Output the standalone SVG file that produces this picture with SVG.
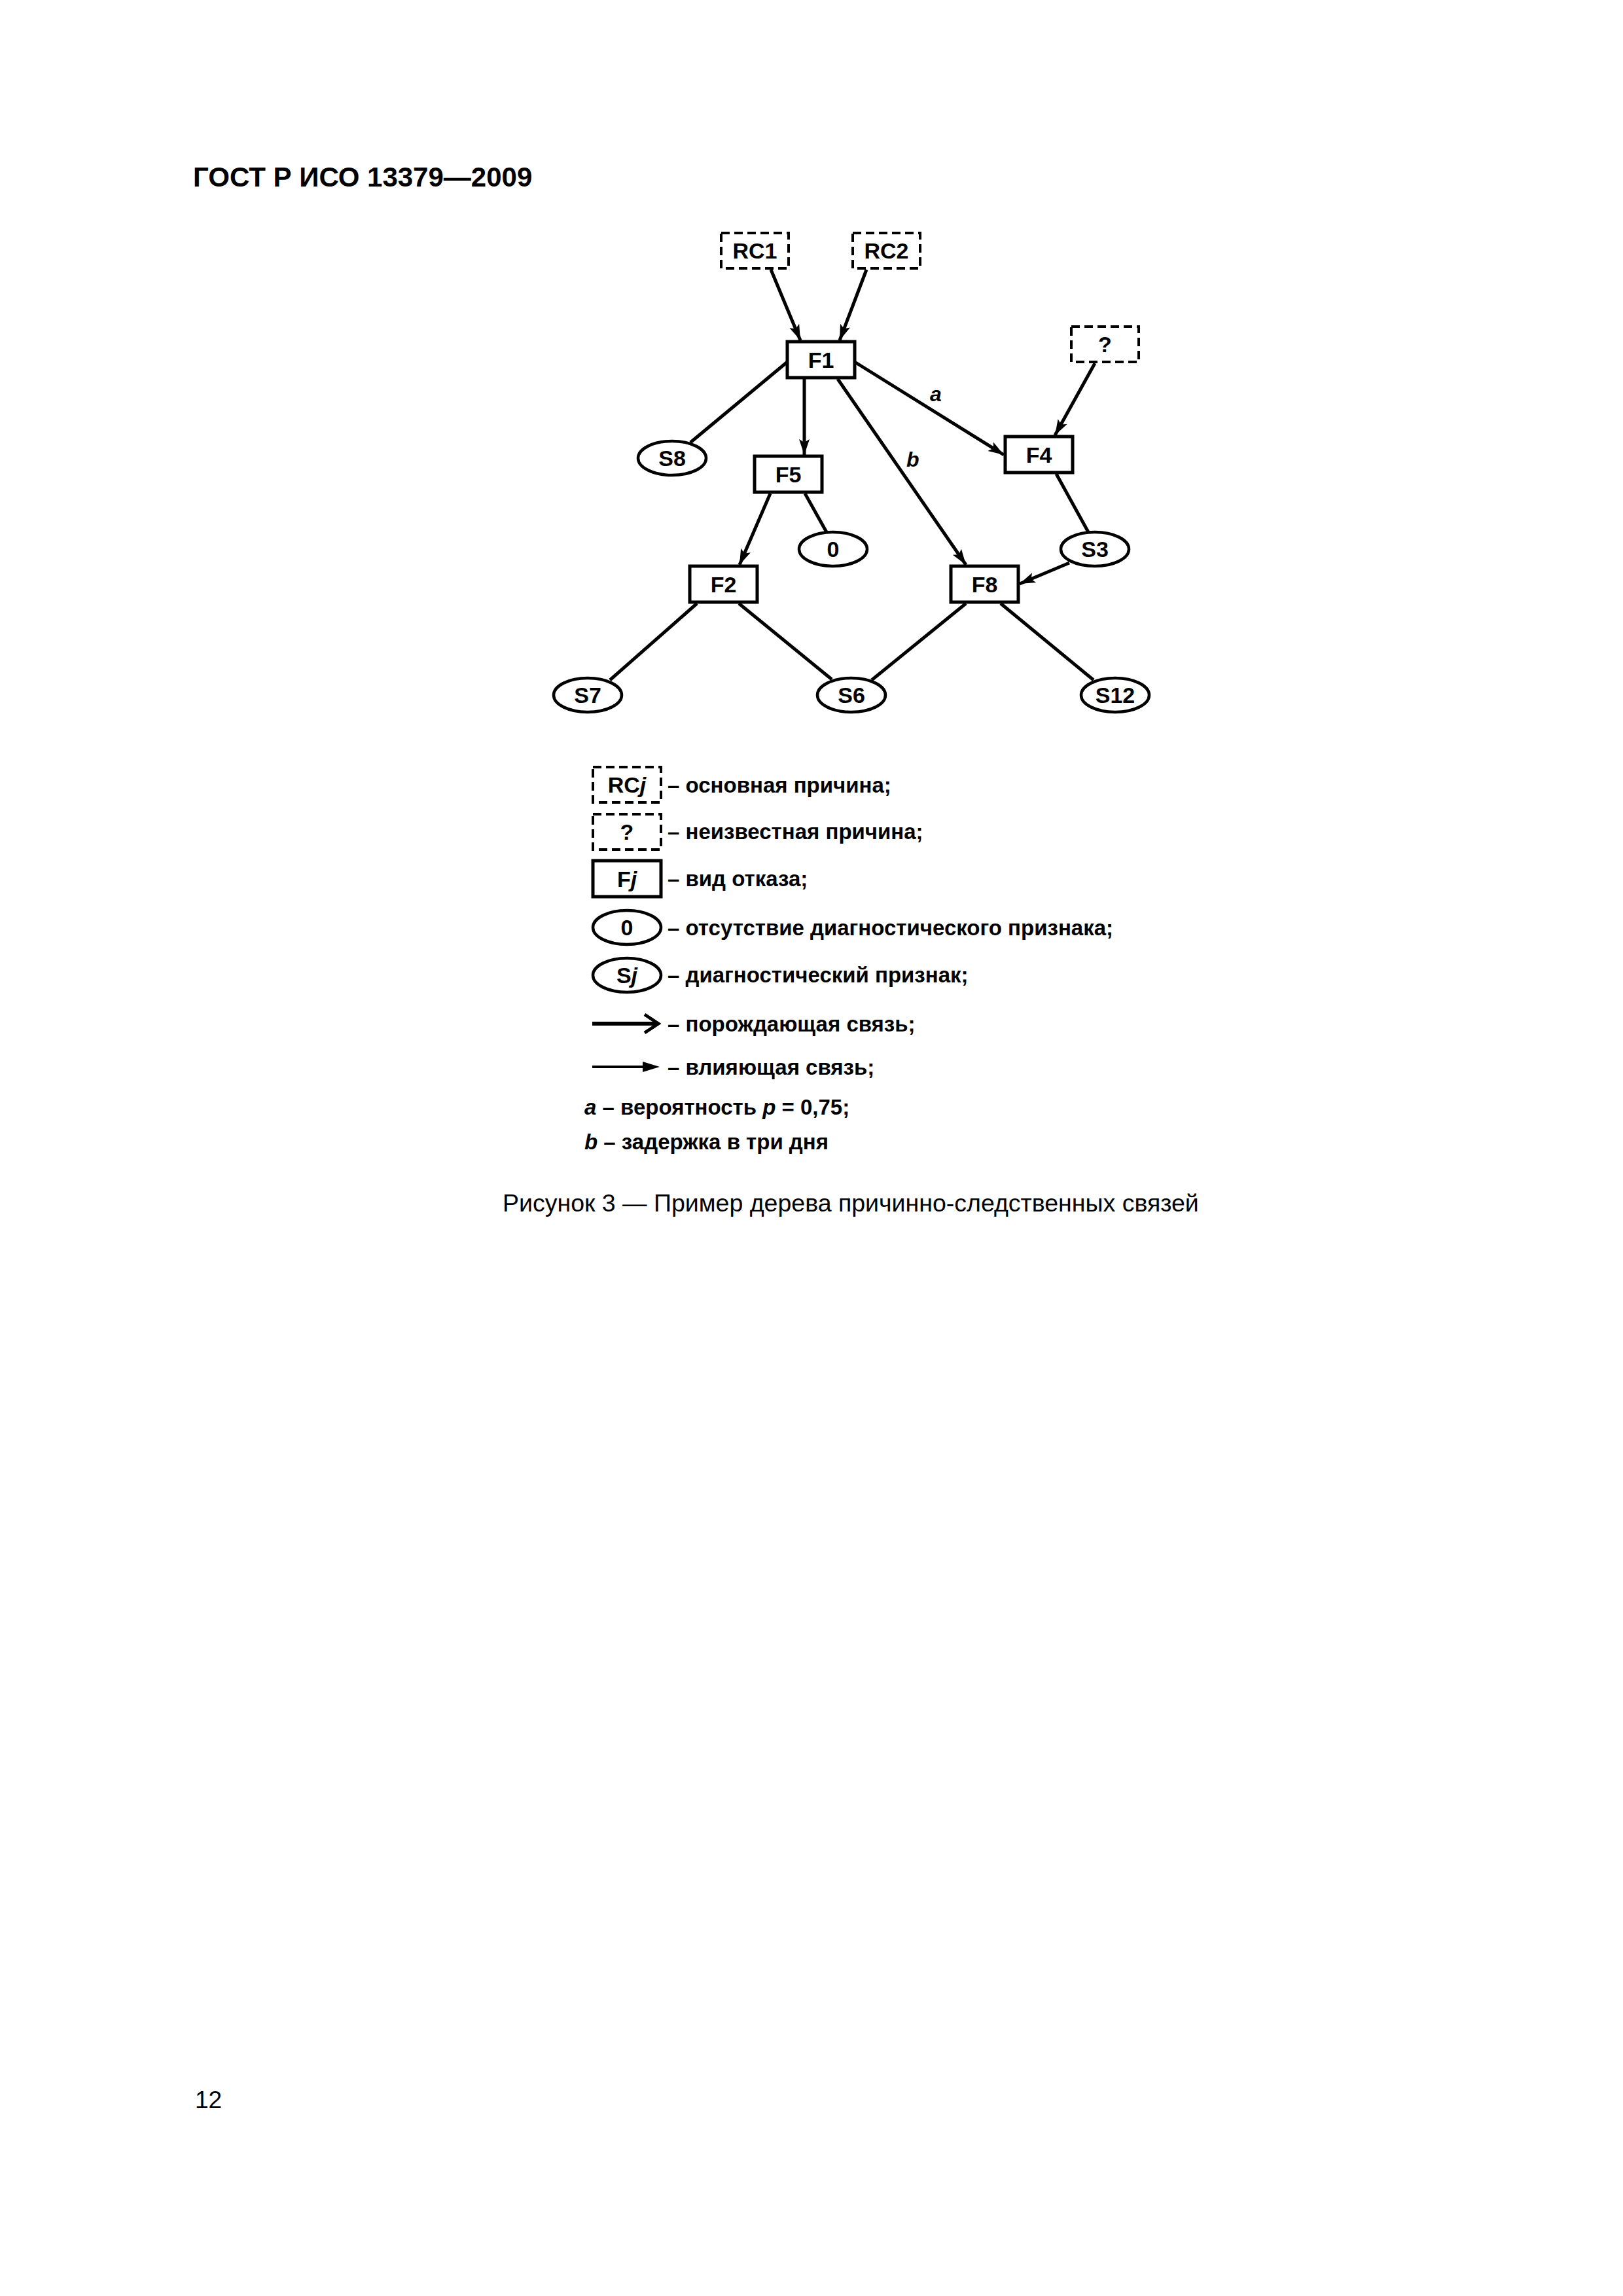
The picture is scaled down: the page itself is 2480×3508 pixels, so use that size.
<svg xmlns="http://www.w3.org/2000/svg" width="2480" height="3508" viewBox="0 0 2480 3508">
<style>
text{font-family:"Liberation Sans",Arial,sans-serif;fill:#000}
.title{font-size:42px;font-weight:bold}
.lbl{font-size:34px;font-weight:bold;text-anchor:middle}
.edge-lbl{font-size:32px;font-weight:bold;font-style:italic}
.leg{font-size:33px;font-weight:bold}
.cap{font-size:37.5px}
.pg{font-size:37px}
.box{fill:#fff;stroke:#000;stroke-width:5}
.dbox{fill:#fff;stroke:#000;stroke-width:4;stroke-dasharray:13 7}
.ell{fill:#fff;stroke:#000;stroke-width:4.5}
.c{fill:none;stroke:#000;stroke-width:5}
.ca{fill:none;stroke:#000;stroke-width:5;marker-end:url(#ah)}
</style>
<defs>
<marker id="ah" markerUnits="userSpaceOnUse" viewBox="-26 -10 28 20" refX="0" refY="0" markerWidth="28" markerHeight="20" orient="auto" overflow="visible">
<path d="M0,0 L-24,-8 L-19,0 L-24,8 Z" fill="#000"/>
</marker>
</defs>
<rect width="2480" height="3508" fill="#fff"/>
<text class="title" x="295" y="285">ГОСТ Р ИСО 13379—2009</text>

<g id="connectors">
<line class="ca" x1="1178" y1="412" x2="1223" y2="520"/>
<line class="ca" x1="1324" y1="412" x2="1283" y2="520"/>
<line class="c" x1="1203" y1="553" x2="1055" y2="676"/>
<line class="ca" x1="1229" y1="579" x2="1229" y2="695"/>
<line class="ca" x1="1280" y1="579" x2="1476" y2="863"/>
<line class="ca" x1="1306" y1="553" x2="1534" y2="695"/>
<line class="ca" x1="1673" y1="555" x2="1612" y2="665"/>
<line class="c" x1="1614" y1="724" x2="1663" y2="813"/>
<line class="ca" x1="1177" y1="754" x2="1130" y2="863"/>
<line class="c" x1="1230" y1="754" x2="1263" y2="813"/>
<line class="ca" x1="1634" y1="860" x2="1558" y2="892"/>
<line class="c" x1="1065" y1="922" x2="932" y2="1039"/>
<line class="c" x1="1129" y1="922" x2="1271" y2="1038"/>
<line class="c" x1="1476" y1="922" x2="1332" y2="1039"/>
<line class="c" x1="1529" y1="922" x2="1671" y2="1039"/>
<text class="edge-lbl" x="1421" y="613">a</text>
<text class="edge-lbl" x="1385" y="713">b</text>
</g>

<g id="RC1"><rect class="dbox" x="1102" y="356" width="103" height="54"/><text class="lbl" x="1153.5" y="395">RC1</text></g>
<g id="RC2"><rect class="dbox" x="1303" y="356" width="103" height="54"/><text class="lbl" x="1354.5" y="395">RC2</text></g>
<g id="Q"><rect class="dbox" x="1637" y="499" width="103" height="54"/><text class="lbl" x="1688.5" y="538">?</text></g>
<g id="F1"><rect class="box" x="1203" y="522" width="103" height="55"/><text class="lbl" x="1254.5" y="562">F1</text></g>
<g id="F4"><rect class="box" x="1536" y="667" width="103" height="55"/><text class="lbl" x="1587.5" y="707">F4</text></g>
<g id="F5"><rect class="box" x="1153" y="697" width="103" height="55"/><text class="lbl" x="1204.5" y="737">F5</text></g>
<g id="F2"><rect class="box" x="1054" y="865" width="103" height="55"/><text class="lbl" x="1105.5" y="905">F2</text></g>
<g id="F8"><rect class="box" x="1453" y="865" width="103" height="55"/><text class="lbl" x="1504.5" y="905">F8</text></g>
<g id="S8"><ellipse class="ell" cx="1027" cy="700" rx="52" ry="26"/><text class="lbl" x="1027" y="712">S8</text></g>
<g id="Z0"><ellipse class="ell" cx="1273" cy="839" rx="52" ry="26"/><text class="lbl" x="1273" y="851">0</text></g>
<g id="S3"><ellipse class="ell" cx="1673" cy="839" rx="52" ry="26"/><text class="lbl" x="1673" y="851">S3</text></g>
<g id="S7"><ellipse class="ell" cx="898" cy="1062" rx="52" ry="26"/><text class="lbl" x="898" y="1074">S7</text></g>
<g id="S6"><ellipse class="ell" cx="1301" cy="1062" rx="52" ry="26"/><text class="lbl" x="1301" y="1074">S6</text></g>
<g id="S12"><ellipse class="ell" cx="1704" cy="1062" rx="52" ry="26"/><text class="lbl" x="1704" y="1074">S12</text></g>

<g id="legend">
<rect class="dbox" x="906" y="1172" width="104" height="54"/>
<text class="lbl" x="958" y="1211">RC<tspan font-style="italic">j</tspan></text>
<text class="leg" x="1020" y="1211">– основная причина;</text>
<rect class="dbox" x="906" y="1244" width="104" height="54"/>
<text class="lbl" x="958" y="1283">?</text>
<text class="leg" x="1020" y="1282">– неизвестная причина;</text>
<rect class="box" x="906" y="1315" width="104" height="55"/>
<text class="lbl" x="958" y="1355">F<tspan font-style="italic">j</tspan></text>
<text class="leg" x="1020" y="1354">– вид отказа;</text>
<ellipse class="ell" cx="958" cy="1417" rx="52" ry="26"/>
<text class="lbl" x="958" y="1429">0</text>
<text class="leg" x="1020" y="1429">– отсутствие диагностического признака;</text>
<ellipse class="ell" cx="958" cy="1490" rx="52" ry="26"/>
<text class="lbl" x="958" y="1502">S<tspan font-style="italic">j</tspan></text>
<text class="leg" x="1020" y="1501">– диагностический признак;</text>
<line x1="905" y1="1564" x2="1003" y2="1564" stroke="#000" stroke-width="6"/>
<polyline points="985,1550 1006,1564 985,1578" fill="none" stroke="#000" stroke-width="5"/>
<text class="leg" x="1020" y="1576">– порождающая связь;</text>
<line x1="905" y1="1630" x2="990" y2="1630" stroke="#000" stroke-width="4"/>
<polygon points="982,1622 1008,1630 982,1638" fill="#000"/>
<text class="leg" x="1020" y="1642">– влияющая связь;</text>
<text class="leg" x="893" y="1703"><tspan font-style="italic">a</tspan> – вероятность <tspan font-style="italic">p</tspan> = 0,75;</text>
<text class="leg" x="893" y="1756"><tspan font-style="italic">b</tspan> – задержка в три дня</text>
</g>

<text class="cap" x="768" y="1851">Рисунок 3 — Пример дерева причинно-следственных связей</text>
<text class="pg" x="298" y="3221">12</text>
</svg>
